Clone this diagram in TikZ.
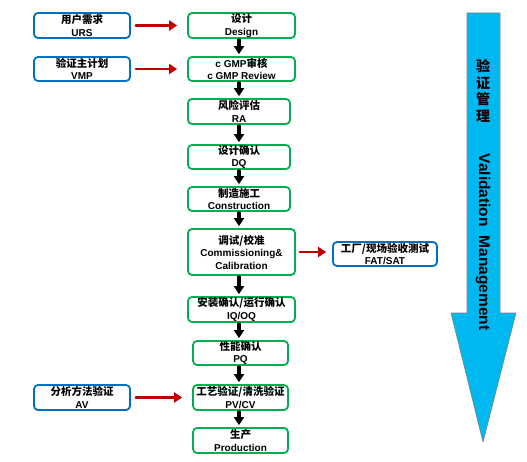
\documentclass[tikz,border=0pt]{standalone}
\usepackage{fontspec}
\setmainfont{Liberation Sans}
\newfontfamily\cjk{Noto Sans CJK SC}
\usetikzlibrary{arrows,arrows.meta}

\definecolor{boxgreen}{RGB}{0,176,80}
\definecolor{boxblue}{RGB}{0,112,192}
\definecolor{arrowred}{RGB}{192,0,0}
\definecolor{bigcyan}{RGB}{0,184,240}

\newcommand{\zh}[1]{{\cjk\fontsize{10.5}{12.5}\selectfont #1}}

\tikzset{
  stage/.style={draw=boxgreen,line width=1.8pt,rounded corners=4pt,fill=white,
    align=center,inner sep=0pt,font=\bfseries\fontsize{10}{12.5}\selectfont},
  input/.style={stage,draw=boxblue},
  flow/.style={-{Triangle[length=8pt,width=10pt]},line width=3.2pt,black,shorten <=1pt,shorten >=2pt},
  feed/.style={-{Triangle[length=8pt,width=10pt]},line width=2.7pt,arrowred,shorten <=5pt,shorten >=10pt}
}

\begin{document}
\begin{tikzpicture}[line cap=round,line join=round,x=1pt,y=-1pt]
\useasboundingbox (0,0) rectangle (527,462);
% big arrow on the right
\draw [fill=bigcyan,draw=gray,line width=0.6pt] (467,13) -- (500,13) -- (500,313) -- (516,313) -- (483,442) -- (451,313) -- (467,313) -- cycle;
\node [align=center,inner sep=0pt,font=\cjk\bfseries\fontsize{14}{16.5}\selectfont] (vmzh) at (483,91) {验\\证\\管\\理};
\node [rotate=-90,inner sep=0pt,font=\bfseries\fontsize{15.5}{18}\selectfont] (vmen) at (483,242) {Validation\ \ Management};
% main column
\node [stage,minimum width=107,minimum height=25] (design) at (241.5,25.5) {\zh{设计}\\Design};
\node [stage,minimum width=107,minimum height=24] (review) at (241.5,69) {c GMP\zh{审核}\\c GMP Review};
\node [stage,minimum width=102,minimum height=25] (ra) at (239,111.5) {\zh{风险评估}\\RA};
\node [stage,minimum width=102,minimum height=24] (dq) at (239,157) {\zh{设计确认}\\DQ};
\node [stage,minimum width=102,minimum height=24] (build) at (239,199) {\zh{制造施工}\\Construction};
\node [stage,minimum width=107,minimum height=46] (comm) at (241.5,252) {\zh{调试/校准}\\Commissioning\&\\Calibration};
\node [stage,minimum width=107,minimum height=25] (iqoq) at (241.5,309.5) {\zh{安装确认/运行确认}\\IQ/OQ};
\node [stage,minimum width=95,minimum height=24] (pq) at (240.5,353) {\zh{性能确认}\\PQ};
\node [stage,minimum width=95,minimum height=25] (pvcv) at (240.5,397.5) {\zh{工艺验证/清洗验证}\\PV/CV};
\node [stage,minimum width=95,minimum height=25] (prod) at (240.5,440.5) {\zh{生产}\\Production};
% side boxes
\node [input,minimum width=96,minimum height=25] (urs) at (82,25.5) {\zh{用户需求}\\URS};
\node [input,minimum width=96,minimum height=24] (vmp) at (82,69) {\zh{验证主计划}\\VMP};
\node [input,minimum width=96,minimum height=25] (av) at (82,397.5) {\zh{分析方法验证}\\AV};
\node [input,minimum width=104,minimum height=24] (fat) at (385,254) {\zh{工厂/现场验收测试}\\FAT/SAT};
% black arrows
\draw [flow] (design.south -| ra) -- (review.north -| ra);
\draw [flow] (review.south -| ra) -- (ra.north);
\draw [flow] (ra.south) -- (dq.north);
\draw [flow] (dq.south) -- (build.north);
\draw [flow] (build.south) -- (comm.north -| ra);
\draw [flow] (comm.south -| ra) -- (iqoq.north -| ra);
\draw [flow] (iqoq.south -| ra) -- (pq.north -| ra);
\draw [flow] (pq.south -| ra) -- (pvcv.north -| ra);
\draw [flow] (pvcv.south -| ra) -- (prod.north -| ra);
% red arrows
\draw [feed] (urs.east) -- (design.west);
\draw [feed] (vmp.east) -- (review.west);
\draw [feed] (av.east) -- (pvcv.west);
\draw [feed,shorten <=4pt,shorten >=6pt] (comm.east) -- (fat.west |- comm.east);
\end{tikzpicture}
\end{document}
